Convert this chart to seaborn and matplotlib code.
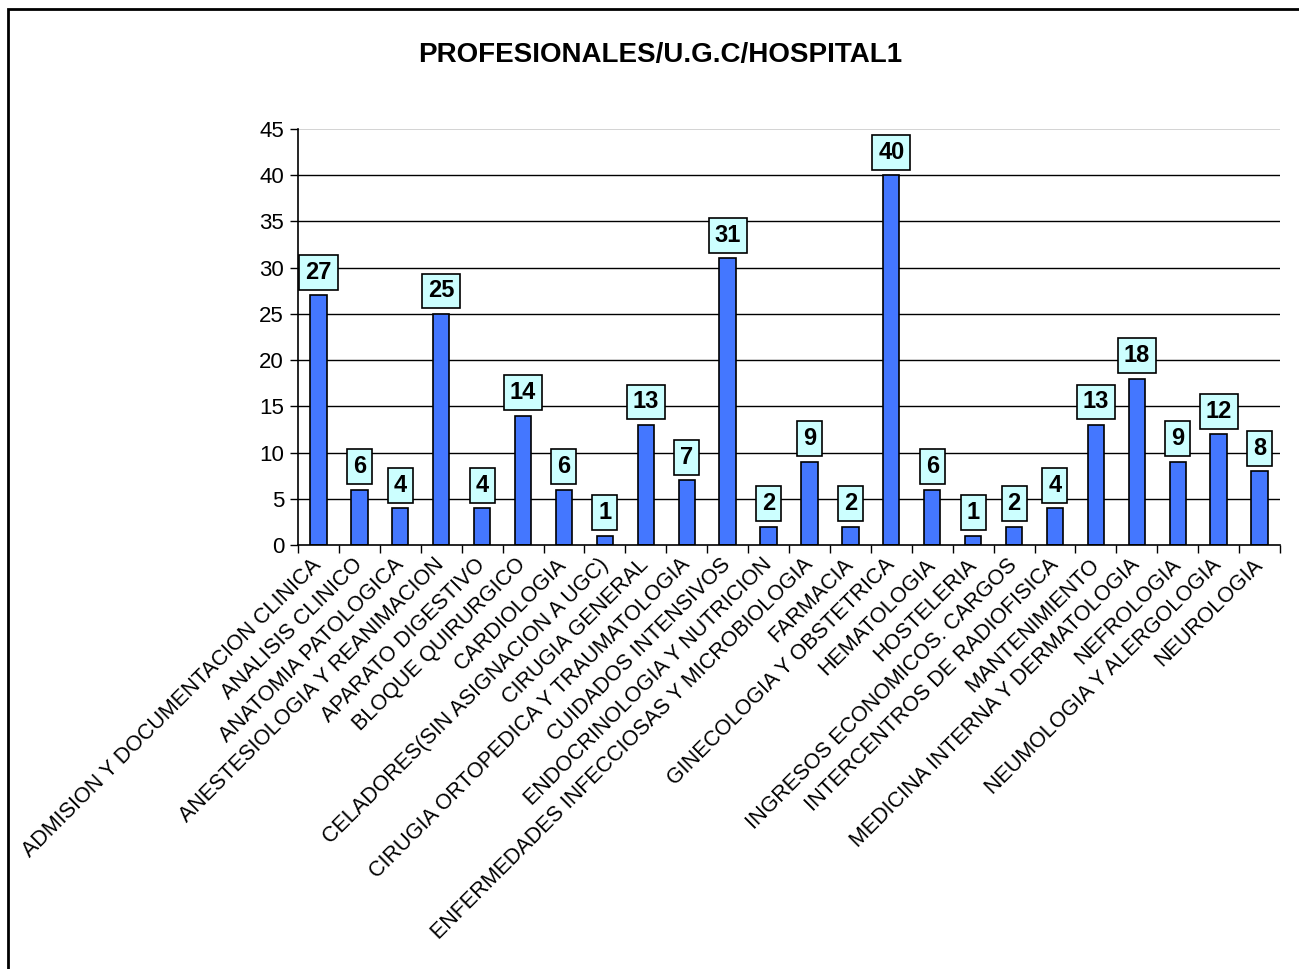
import matplotlib
matplotlib.use("Agg")
import matplotlib.pyplot as plt
import seaborn as sns
import pandas as pd
from matplotlib.patches import Rectangle

# --- datos ---
servicios = [
    "ADMISION Y DOCUMENTACION CLINICA", "ANALISIS CLINICO", "ANATOMIA PATOLOGICA",
    "ANESTESIOLOGIA Y REANIMACION", "APARATO DIGESTIVO", "BLOQUE QUIRURGICO",
    "CARDIOLOGIA", "CELADORES(SIN ASIGNACION A UGC)", "CIRUGIA GENERAL",
    "CIRUGIA ORTOPEDICA Y TRAUMATOLOGIA", "CUIDADOS INTENSIVOS",
    "ENDOCRINOLOGIA Y NUTRICION", "ENFERMEDADES INFECCIOSAS Y MICROBIOLOGIA",
    "FARMACIA", "GINECOLOGIA Y OBSTETRICA", "HEMATOLOGIA", "HOSTELERIA",
    "INGRESOS ECONOMICOS. CARGOS", "INTERCENTROS DE RADIOFISICA", "MANTENIMIENTO",
    "MEDICINA INTERNA Y DERMATOLOGIA", "NEFROLOGIA", "NEUMOLOGIA Y ALERGOLOGIA",
    "NEUROLOGIA",
]
profesionales = [27, 6, 4, 25, 4, 14, 6, 1, 13, 7, 31, 2, 9, 2, 40, 6, 1, 2, 4, 13, 18, 9, 12, 8]
yticks = [0, 5, 10, 15, 20, 25, 30, 35, 40, 45]

df = pd.DataFrame({"servicio": servicios, "n": profesionales})

sns.set_style("white")
plt.rcParams["font.family"] = ["Liberation Sans", "DejaVu Sans"]
for k in ["text.color", "axes.labelcolor", "xtick.color", "ytick.color"]:
    plt.rcParams[k] = "black"

fig = plt.figure(figsize=(12.99, 9.69), dpi=100)
ax = fig.add_axes([298 / 1299, 1 - 545 / 969, (1280 - 298) / 1299, (545 - 129) / 969])

sns.barplot(data=df, x="servicio", y="n", color="#4477ff", saturation=1,
            width=0.4, edgecolor="black", linewidth=1.2, ax=ax)

# etiquetas de valor en cajas
for i, v in enumerate(profesionales):
    ax.annotate(str(v), (i, v), xytext=(0, 16.5), textcoords="offset points",
                ha="center", va="center", fontsize=17, fontweight="bold",
                bbox=dict(boxstyle="square,pad=0.25", fc="#ccffff", ec="black", lw=1.2))

ax.set_ylim(0, 45)
ax.set_xlim(-0.5, len(servicios) - 0.5)
ax.set_yticks(yticks)
ax.set_yticklabels([str(t) for t in yticks], fontsize=16)
for t in yticks[1:-1]:
    ax.axhline(t, color="black", lw=1.0, zorder=0)
ax.axhline(45, color="#cccccc", lw=1.2, zorder=0)

# ticks entre categorias
ax.set_xticks([i for i in range(len(servicios))])
ax.set_xticklabels(servicios, rotation=45, ha="right", va="center",
                   rotation_mode="anchor", fontsize=15.5)
ax.set_xticks([i - 0.5 for i in range(len(servicios) + 1)], minor=True)
ax.tick_params(axis="x", which="major", length=0, pad=12)
ax.tick_params(axis="x", which="minor", length=6, width=1, color="black", direction="out")
ax.tick_params(axis="y", length=6, width=1, color="black", direction="out", pad=4)
ax.xaxis.set_ticks_position("bottom")
ax.yaxis.set_ticks_position("left")

for s in ["top", "right"]:
    ax.spines[s].set_visible(False)
for s in ["left", "bottom"]:
    ax.spines[s].set_color("black")
    ax.spines[s].set_linewidth(1.2)

ax.set_xlabel("")
ax.set_ylabel("")

fig.text(660 / 1299, 1 - 55 / 969, "PROFESIONALES/U.G.C/HOSPITAL1", ha="center", va="center",
         fontsize=20, fontweight="bold")

# marco del grafico
fig.patches.append(Rectangle((8 / 1299, -0.05), 1.1, 1.05 - 9 / 969, transform=fig.transFigure,
                             fill=False, ec="black", lw=2))

fig.savefig("out.png", dpi=100)
